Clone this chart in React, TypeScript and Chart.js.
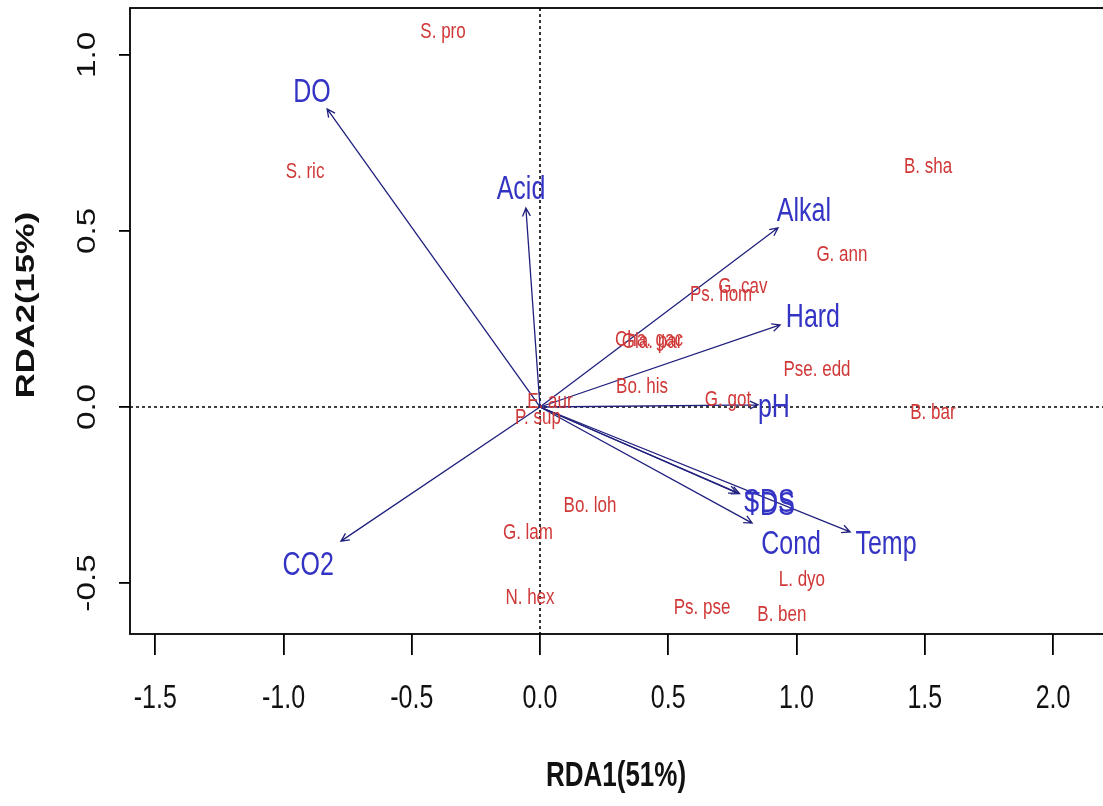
import React, { useEffect, useRef } from "react";
import { Chart, registerables } from "chart.js";

Chart.register(...registerables);

// ---- data ----
const speciesNames = ["S. pro", "S. ric", "B. sha", "G. ann", "G. cav", "Ps. hom", "Cha. gac", "Gla. par", "Bo. his", "G. got", "Pse. edd", "B. bar", "E. aur", "P. sup", "Bo. loh", "G. lam", "N. hex", "Ps. pse", "B. ben", "L. dyo"];
const speciesX = [-0.378, -0.916, 1.513, 1.177, 0.791, 0.706, 0.425, 0.437, 0.398, 0.733, 1.08, 1.532, 0.039, -0.008, 0.195, -0.047, -0.039, 0.632, 0.943, 1.021];
const speciesY = [1.065, 0.668, 0.682, 0.432, 0.341, 0.318, 0.19, 0.184, 0.057, 0.02, 0.105, -0.017, 0.014, -0.031, -0.281, -0.358, -0.543, -0.571, -0.591, -0.491];

const envNames = ["DO", "Acid", "Alkal", "Hard", "pH", "SDS", "TDS", "Cond", "Temp", "CO2"];
const envX = [-0.83, -0.055, 0.928, 0.936, 0.85, 0.768, 0.778, 0.827, 1.209, -0.776];
const envY = [0.847, 0.565, 0.509, 0.233, 0.006, -0.244, -0.246, -0.33, -0.355, -0.381];
const envLabelX = [-0.889, -0.074, 1.029, 1.064, 0.912, 0.893, 0.896, 0.979, 1.349, -0.904];
const envLabelY = [0.892, 0.616, 0.554, 0.253, -0.003, -0.273, -0.281, -0.392, -0.392, -0.452];

const xTickValues = [-1.5, -1.0, -0.5, 0.0, 0.5, 1.0, 1.5, 2.0];
const xTickLabels = ["-1.5", "-1.0", "-0.5", "0.0", "0.5", "1.0", "1.5", "2.0"];
const yTickValues = [-0.5, 0.0, 0.5, 1.0];
const yTickLabels = ["-0.5", "0.0", "0.5", "1.0"];

const xTitle = "RDA1(51%)";
const yTitle = "RDA2(15%)";

// ---- styles ----
const S = 1.33; // vertical text stretch
const FONT = '"Liberation Sans", Arial, sans-serif';
const RED = "#d03838";
const BLUE = "#3434c4";
const NAVY = "#20207e";

function drawText(ctx: CanvasRenderingContext2D, text: string, x: number, y: number, font: string, color: string, rot = 0) {
  ctx.save();
  ctx.translate(x, y);
  ctx.scale(1, S);
  if (rot) ctx.rotate(rot);
  ctx.font = font;
  ctx.fillStyle = color;
  ctx.textAlign = "center";
  ctx.textBaseline = "middle";
  ctx.fillText(text, 0, 0);
  ctx.restore();
}

const rdaPlugin = {
  id: "rda",
  beforeDatasetsDraw(chart: any) {
    const { ctx, chartArea: a, scales } = chart;
    const x0 = scales.x.getPixelForValue(0);
    const y0 = scales.y.getPixelForValue(0);
    ctx.save();
    ctx.strokeStyle = "#000";
    ctx.lineWidth = 1.6;
    ctx.setLineDash([3, 3]);
    ctx.beginPath();
    ctx.moveTo(x0, a.top);
    ctx.lineTo(x0, a.bottom);
    ctx.moveTo(a.left, y0);
    ctx.lineTo(a.right, y0);
    ctx.stroke();
    ctx.restore();
  },
  afterDatasetsDraw(chart: any) {
    const { ctx, chartArea: a, scales } = chart;
    const sx = scales.x, sy = scales.y;
    const x0 = sx.getPixelForValue(0);
    const y0 = sy.getPixelForValue(0);

    // arrows
    ctx.save();
    ctx.strokeStyle = NAVY;
    ctx.lineWidth = 1.3;
    for (let i = 0; i < envNames.length; i++) {
      const tx = sx.getPixelForValue(envX[i]);
      const ty = sy.getPixelForValue(envY[i]);
      const ang = Math.atan2(ty - y0, tx - x0);
      const h = 9, w = Math.PI / 7;
      ctx.beginPath();
      ctx.moveTo(x0, y0);
      ctx.lineTo(tx, ty);
      ctx.moveTo(tx - h * Math.cos(ang - w), ty - h * Math.sin(ang - w));
      ctx.lineTo(tx, ty);
      ctx.lineTo(tx - h * Math.cos(ang + w), ty - h * Math.sin(ang + w));
      ctx.stroke();
    }
    ctx.restore();

    // species labels
    for (let i = 0; i < speciesNames.length; i++) {
      drawText(ctx, speciesNames[i], sx.getPixelForValue(speciesX[i]), sy.getPixelForValue(speciesY[i]), `17px ${FONT}`, RED);
    }
    // env labels
    for (let i = 0; i < envNames.length; i++) {
      drawText(ctx, envNames[i], sx.getPixelForValue(envLabelX[i]), sy.getPixelForValue(envLabelY[i]), `25px ${FONT}`, BLUE);
    }

    // box
    ctx.save();
    ctx.strokeStyle = "#000";
    ctx.lineWidth = 1.8;
    ctx.strokeRect(a.left, a.top, a.right - a.left, a.bottom - a.top);
    ctx.restore();

    // tick labels
    for (let i = 0; i < xTickValues.length; i++) {
      drawText(ctx, xTickLabels[i], sx.getPixelForValue(xTickValues[i]), a.bottom + 65, `25px ${FONT}`, "#111");
    }
    for (let i = 0; i < yTickValues.length; i++) {
      drawText(ctx, yTickLabels[i], a.left - 42, sy.getPixelForValue(yTickValues[i]), `25px ${FONT}`, "#111", -Math.PI / 2);
    }
    // titles
    drawText(ctx, xTitle, 616, 776, `bold 26px ${FONT}`, "#111");
    drawText(ctx, yTitle, 27, 305, `bold 26px ${FONT}`, "#111", -Math.PI / 2);
  },
};

export default function App() {
  const ref = useRef<HTMLCanvasElement | null>(null);
  useEffect(() => {
    if (!ref.current) return;
    const chart = new Chart(ref.current, {
      type: "scatter",
      data: {
        datasets: [
          {
            label: "Species",
            data: speciesX.map((v, i) => ({ x: v, y: speciesY[i] })),
            pointRadius: 0,
            backgroundColor: RED,
          },
          {
            label: "Environment",
            data: envX.map((v, i) => ({ x: v, y: envY[i] })),
            pointRadius: 0,
            backgroundColor: NAVY,
          },
        ],
      },
      options: {
        responsive: false,
        maintainAspectRatio: false,
        animation: false,
        events: [],
        layout: { padding: { top: 8, right: 8, left: 0, bottom: 0 } },
        plugins: { legend: { display: false }, tooltip: { enabled: false } },
        scales: {
          x: {
            type: "linear",
            min: -1.5984,
            max: 2.2105,
            afterBuildTicks: (s: any) => {
              s.ticks = xTickValues.map((v) => ({ value: v }));
            },
            afterFit: (s: any) => {
              s.height = 172;
            },
            ticks: { display: false },
            border: { display: false },
            grid: { drawOnChartArea: false, drawTicks: true, tickLength: 21, color: "#000", lineWidth: 1.8 },
          },
          y: {
            type: "linear",
            min: -0.6449,
            max: 1.1335,
            afterBuildTicks: (s: any) => {
              s.ticks = yTickValues.map((v) => ({ value: v }));
            },
            afterFit: (s: any) => {
              s.width = 130;
            },
            ticks: { display: false },
            border: { display: false },
            grid: { drawOnChartArea: false, drawTicks: true, tickLength: 11, color: "#000", lineWidth: 1.8 },
          },
        },
      },
      plugins: [rdaPlugin],
    } as any);
    return () => chart.destroy();
  }, []);
  return (
    <div style={{ position: "absolute", left: 0, top: 0, width: 1103, height: 806, overflow: "hidden", background: "#fff" }}>
      <canvas ref={ref} width={1115} height={806} style={{ display: "block" }} />
    </div>
  );
}
